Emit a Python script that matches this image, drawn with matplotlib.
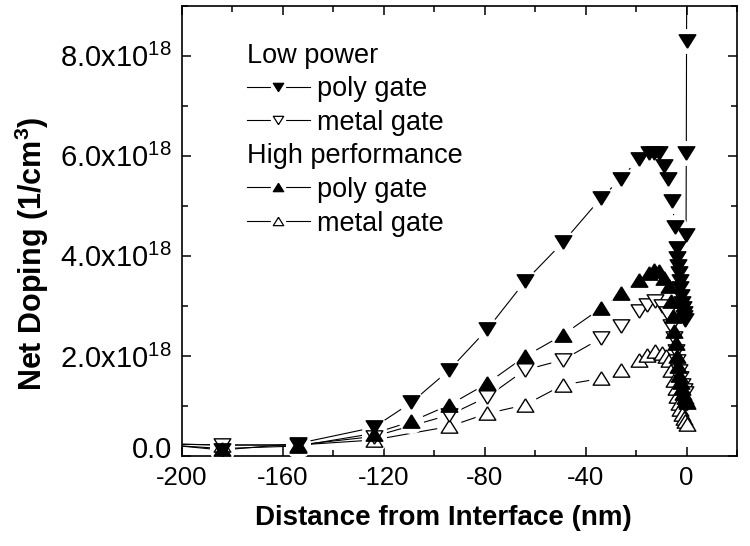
import numpy as np
import matplotlib
matplotlib.use('Agg')
import matplotlib.pyplot as plt
from matplotlib.lines import Line2D
from matplotlib.legend_handler import HandlerTuple
from matplotlib.ticker import MultipleLocator, FuncFormatter

plt.rcParams['font.family'] = ['Liberation Sans', 'DejaVu Sans']
plt.rcParams['mathtext.fontset'] = 'custom'
plt.rcParams['mathtext.rm'] = 'Liberation Sans'
plt.rcParams['mathtext.it'] = 'Liberation Sans:italic'
plt.rcParams['mathtext.bf'] = 'Liberation Sans:bold'

# distance from interface (nm) / net doping in units of 1e18 cm^-3
lp_poly_x = [-215, -184, -154, -124, -109, -94, -79, -64, -49, -34, -26, -19, -15, -13, -11, -9,
             -7.3, -5.6, -4.7, -3.9, -3.6, -3.3, -3.0, -2.7, -2.4, -2.1, -1.8, -1.5, -1.2, -0.9,
             -0.6, -0.2, -0.1, 0.0, 0.1]
lp_poly_y = [0.27, 0.12, 0.25, 0.57, 1.07, 1.72, 2.53, 3.49, 4.27, 5.15, 5.54, 5.94, 6.05, 6.05, 6.05, 5.80,
             5.53, 5.09, 4.57, 4.15, 3.95, 3.80, 3.65, 3.50, 3.35, 3.20, 3.05, 2.95, 2.85, 2.78,
             2.72, 4.42, 6.05, 8.29, 10.0]

lp_metal_x = [-215, -184, -154, -124, -94, -79, -64, -49, -34, -26, -19, -15.6, -12.3, -9.6, -7.6,
              -6.0, -5.0, -4.3, -3.6, -3.0, -2.4, -1.8, -1.2, -0.6]
lp_metal_y = [0.25, 0.22, 0.22, 0.39, 0.82, 1.18, 1.72, 1.92, 2.35, 2.59, 2.89, 3.02, 3.09, 2.99, 2.85,
              2.60, 2.35, 2.10, 1.90, 1.70, 1.55, 1.42, 1.32, 1.25]

hp_poly_x = [-215, -184, -154, -124, -109, -94, -79, -64, -49, -34, -26, -19, -15, -13, -11, -9, -7,
             -6.0, -5.4, -4.8, -4.3, -3.8, -3.3, -2.8, -2.3, -1.8, -1.3, -0.8, -0.3, 0.2]
hp_poly_y = [0.25, 0.15, 0.20, 0.45, 0.69, 1.02, 1.45, 1.99, 2.42, 2.95, 3.25, 3.52, 3.65, 3.72, 3.70, 3.55, 3.40,
             3.10, 2.80, 2.50, 2.25, 2.00, 1.80, 1.62, 1.47, 1.35, 1.25, 1.17, 1.12, 1.08]

hp_metal_x = [-215, -184, -154, -124, -94, -79, -64, -49, -34, -26, -19, -15.6, -12.3, -9.6, -8.3, -7.0,
              -6.0, -5.0, -4.3, -3.6, -3.0, -2.4, -1.8, -1.2, -0.6, 0.0]
hp_metal_y = [0.25, 0.22, 0.22, 0.32, 0.59, 0.85, 1.02, 1.42, 1.55, 1.72, 1.92, 2.02, 2.09, 2.05, 1.99, 1.92,
              1.72, 1.52, 1.35, 1.19, 1.05, 0.93, 0.83, 0.75, 0.69, 0.64]

legend_labels = ['poly gate', 'metal gate']
group_labels = ['Low power', 'High performance']

# equilateral-ish triangles like Origin's symbols
TRI_UP = [(0, 0.8), (-1, -0.8), (1, -0.8), (0, 0.8)]
TRI_DOWN = [(0, -0.8), (-1, 0.8), (1, 0.8), (0, -0.8)]

W, H, DPI = 750, 546, 100
fig = plt.figure(figsize=(W / DPI, H / DPI), dpi=DPI)
ax = fig.add_axes([0.2423, 0.1648, 0.7404, 0.8248])


def draw_series(x, y, marker, filled):
    y = np.asarray(y) * 1e18
    ax.plot(x, y, color='black', lw=0.8, zorder=2)
    # white halo gives the "gap to symbol" look
    ax.plot(x, y, ls='none', marker='o', ms=18, mfc='white', mec='none', zorder=3)
    ax.plot(x, y, ls='none', marker=marker, ms=12, mfc='black' if filled else 'white',
            mec='black', mew=1.0, zorder=4)


draw_series(hp_metal_x, hp_metal_y, TRI_UP, False)
draw_series(lp_metal_x, lp_metal_y, TRI_DOWN, False)
draw_series(hp_poly_x, hp_poly_y, TRI_UP, True)
draw_series(lp_poly_x, lp_poly_y, TRI_DOWN, True)

ax.set_xlim(-200, 20)
ax.set_ylim(0, 9e18)
ax.xaxis.set_major_locator(MultipleLocator(40))
ax.xaxis.set_minor_locator(MultipleLocator(20))
ax.yaxis.set_major_locator(MultipleLocator(2e18))
ax.yaxis.set_minor_locator(MultipleLocator(1e18))


def ylab(v, pos):
    if abs(v) < 1e10:
        return ''  # drawn separately, sits a little above the axis like the original
    return f'{v / 1e18:.1f}x10$^{{18}}$'


ax.yaxis.set_major_formatter(FuncFormatter(ylab))
ax.xaxis.set_major_formatter(FuncFormatter(lambda v, p: f'{v:.0f}'))
ax.tick_params(which='both', direction='in', top=True, right=True, width=1.1, pad=7)
ax.tick_params(axis='x', labelsize=18.5)
ax.tick_params(axis='y', labelsize=21)
ax.tick_params(which='major', length=6.5)
ax.tick_params(which='minor', length=4)
for s in ax.spines.values():
    s.set_linewidth(1.2)

ax.annotate('0.0', xy=(0, 0), xycoords=('axes fraction', 'data'), xytext=(-7, 4),
            textcoords='offset points', ha='right', va='center', fontsize=21)

ax.set_xlabel('Distance from Interface (nm)', fontsize=20, fontweight='bold')
ax.set_ylabel(r'Net Doping (1/cm$^{\mathbf{3}}$)', fontsize=22, fontweight='bold')
ax.xaxis.set_label_coords(0.472, -0.108)
ax.yaxis.set_label_coords(-0.235, 0.449)


def leg_handle(marker, filled):
    line = Line2D([], [], color='black', lw=0.8)
    halo = Line2D([], [], ls='none', marker='o', ms=11, mfc='white', mec='none')
    mark = Line2D([], [], ls='none', marker=marker, ms=7.5, mfc='black' if filled else 'white',
                  mec='black', mew=0.9)
    return (line, halo, mark)


blank = Line2D([], [], alpha=0)
handles = [blank, leg_handle(TRI_DOWN, True), leg_handle(TRI_DOWN, False),
           blank, leg_handle(TRI_UP, True), leg_handle(TRI_UP, False)]
labels = [group_labels[0], legend_labels[0], legend_labels[1],
          group_labels[1], legend_labels[0], legend_labels[1]]
fs_leg, hl, hp = 19.5, 2.33, 0.25
leg = ax.legend(handles, labels, loc='upper left', bbox_to_anchor=(0.117, 0.918),
                frameon=False, fontsize=fs_leg, handlelength=hl, handletextpad=hp,
                labelspacing=0.28, borderpad=0, borderaxespad=0,
                handler_map={tuple: HandlerTuple(ndivide=1)})

# group headers start at the left edge of the symbol column
fig.canvas.draw()
renderer = fig.canvas.get_renderer()
for i in (0, 3):
    t = leg.get_texts()[i]
    bb = t.get_window_extent(renderer)
    x_px = bb.x0 - (hl + hp) * fs_leg * DPI / 72
    y_px = 0.5 * (bb.y0 + bb.y1)
    t.set_text('')
    fig.text(x_px / W, y_px / H, labels[i], ha='left', va='center', fontsize=fs_leg)

fig.savefig('out.png', dpi=DPI)
